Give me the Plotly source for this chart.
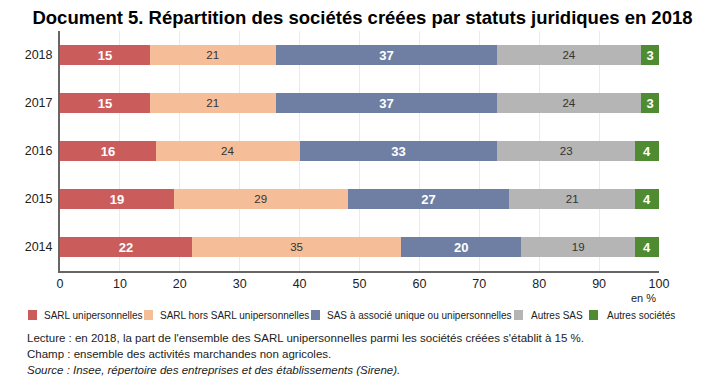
import plotly.graph_objects as go

years = ["2014", "2015", "2016", "2017", "2018"]
series_names = ["SARL unipersonnelles", "SARL hors SARL unipersonnelles",
                "SAS à associé unique ou unipersonnelles", "Autres SAS", "Autres sociétés"]
sarl_uni = [22, 19, 16, 15, 15]
sarl_hors = [35, 29, 24, 21, 21]
sas_uni = [20, 27, 33, 37, 37]
autres_sas = [19, 21, 23, 24, 24]
autres_soc = [4, 4, 4, 3, 3]
x_ticks = [0, 10, 20, 30, 40, 50, 60, 70, 80, 90, 100]

values = [sarl_uni, sarl_hors, sas_uni, autres_sas, autres_soc]
colors = ["#CB5C5C", "#F5BE98", "#6F7FA4", "#B5B5B5", "#4F8B31"]
text_colors = ["white", "#333333", "white", "#333333", "white"]
text_bold = [True, False, True, False, True]

FONT = "Liberation Sans, Arial, sans-serif"

# The page body has an 8px margin, so the figure is sized to the visible area
OFF = 8
W, H = 726 - OFF, 379 - OFF
L, R, T, B = 52, 67, 23, 108
PW, PH = W - L - R, H - T - B


def px(x):  # reference pixel x -> paper fraction
    return (x - OFF - L) / PW


def py(y):  # reference pixel y -> paper fraction
    return (H - B - (y - OFF)) / PH


fig = go.Figure()
for name, vals, col, tc, b in zip(series_names, values, colors, text_colors, text_bold):
    fig.add_trace(go.Bar(
        y=years, x=vals, name=name, orientation="h",
        marker=dict(color=col, line=dict(width=0)),
        width=0.4,
        text=[f"<b>{v}</b>" if b else str(v) for v in vals],
        textposition="inside", insidetextanchor="middle", textangle=0,
        textfont=dict(color=tc, size=13 if b else 11.5, family=FONT),
        constraintext="none",
        hoverinfo="skip",
        showlegend=False,
    ))

fig.update_layout(
    barmode="stack",
    width=W, height=H,
    margin=dict(l=L, r=R, t=T, b=B),
    paper_bgcolor="white", plot_bgcolor="white",
    font=dict(family=FONT, size=12, color="#222222"),
    title=dict(text="<b>Document 5. Répartition des sociétés créées par statuts juridiques en 2018</b>",
               x=(362.5 - OFF) / W, xanchor="center", y=1 - (18 - OFF) / H, yanchor="middle",
               font=dict(family=FONT, size=18.5, color="black")),
    xaxis=dict(range=[0, 100], tickvals=x_ticks, ticktext=[str(t) for t in x_ticks],
               showgrid=True, gridcolor="#E3ECF5", gridwidth=1,
               showline=True, linecolor="#666666", linewidth=2,
               zeroline=False, ticks="", tickfont=dict(size=12.5, family=FONT, color="#222222"),
               fixedrange=True),
    yaxis=dict(range=[-0.5, 4.5], type="category", showline=True, linecolor="#666666", linewidth=2,
               showgrid=False, ticks="", ticklabelstandoff=3,
               tickfont=dict(size=12.5, family=FONT, color="#222222"), fixedrange=True),
    showlegend=False,
)

# custom legend (layout only)
sq_x = [28, 144, 311, 514, 589]
txt_x = [42, 158, 325, 529, 605]
leg_y = 315
for name, col, sx, tx in zip(series_names, colors, sq_x, txt_x):
    fig.add_shape(type="rect", xref="paper", yref="paper",
                  x0=px(sx), x1=px(sx + 9), y0=py(leg_y - 5), y1=py(leg_y + 5),
                  fillcolor=col, line=dict(width=0))
    fig.add_annotation(text=name, xref="paper", yref="paper", x=px(tx), y=py(leg_y),
                       xanchor="left", yanchor="middle", showarrow=False,
                       font=dict(size=10, family=FONT, color="#222222"))

fig.add_annotation(text="en %", xref="paper", yref="paper", x=px(658), y=py(298),
                   xanchor="right", yanchor="middle", showarrow=False,
                   font=dict(size=11, family=FONT, color="#222222"))
notes = [
    "Lecture : en 2018, la part de l'ensemble des SARL unipersonnelles parmi les sociétés créées s'établit à 15 %.",
    "Champ : ensemble des activités marchandes non agricoles.",
    "<i>Source : Insee, répertoire des entreprises et des établissements (Sirene).</i>",
]
note_y = [338, 354, 370]
for n, ny in zip(notes, note_y):
    fig.add_annotation(text=n, xref="paper", yref="paper", x=px(25), y=py(ny),
                       xanchor="left", yanchor="middle", showarrow=False,
                       font=dict(size=11.5, family=FONT, color="#222222"))

fig.write_html("out.html")
